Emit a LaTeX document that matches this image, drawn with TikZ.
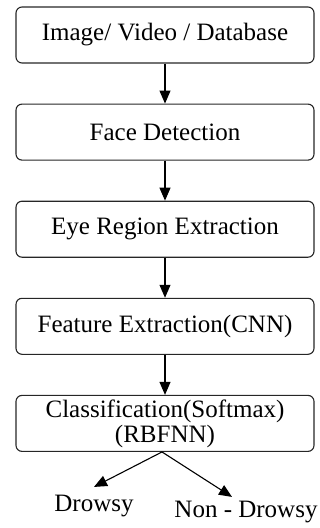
\documentclass[tikz,border=0pt]{standalone}
\usepackage{fontspec}
\setmainfont{Liberation Serif}
\usepackage{tikz}
\usetikzlibrary{positioning,arrows.meta}

\begin{document}
\begin{tikzpicture}[
  node distance=40pt,
  box/.style={draw=black!85, rounded corners=6pt, line width=1.1pt, align=center,
              minimum width=298pt, minimum height=56pt, inner sep=2pt,
              font=\fontsize{25}{23}\selectfont},
  label/.style={inner sep=2pt, font=\fontsize{25}{23}\selectfont},
  arrow/.style={-{Triangle[length=13pt,width=11pt]}, line width=1.1pt, draw=black}
]
\useasboundingbox (0,0) rectangle (320pt,-528pt);
\node[box] (input) at (165pt,-35pt) {Image/ Video / Database};
\node[box, below=of input] (face) {Face Detection};
\node[box, below=of face] (eye) {Eye Region Extraction};
\node[box, below=of eye] (feat) {Feature Extraction(CNN)};
\node[box, below=of feat] (cls) {Classification(Softmax)\\[2pt](RBFNN)};
\node[label] (drowsy) at (94pt,-506pt) {Drowsy};
\node[label] (nondrowsy) at (246pt,-512pt) {Non - Drowsy};
\coordinate (split) at ([xshift=-3pt]cls.south);
\draw[arrow] (input) -- (face);
\draw[arrow] (face) -- (eye);
\draw[arrow] (eye) -- (feat);
\draw[arrow] (feat) -- (cls);
\draw[arrow] (split) -- ([yshift=6pt]drowsy.north);
\draw[arrow] (split) -- ([xshift=-14pt,yshift=2pt]nondrowsy.north);
\end{tikzpicture}
\end{document}
